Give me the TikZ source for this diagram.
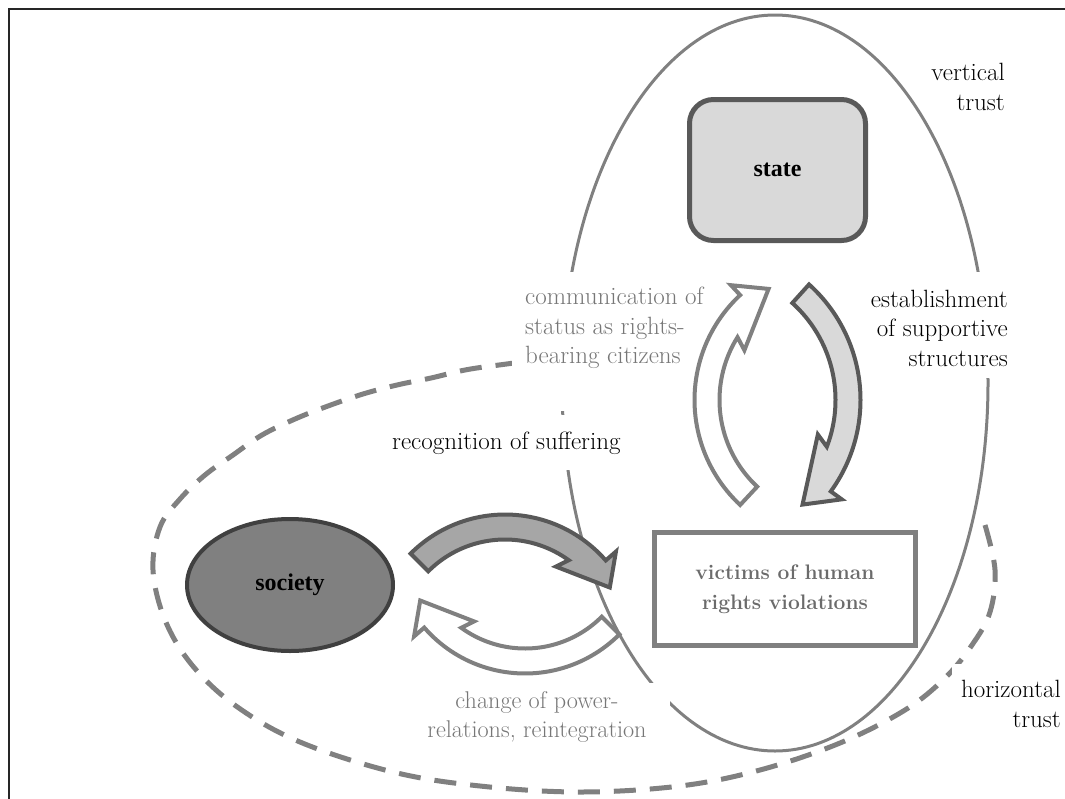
\documentclass[tikz,border=0pt]{standalone}
\usepackage{fontspec}
\usetikzlibrary{shapes.geometric}
\newfontfamily\tnr{Liberation Serif}
\definecolor{dgrey}{HTML}{595959}
\definecolor{mgrey}{HTML}{808080}
\definecolor{lgrey}{HTML}{D9D9D9}
\definecolor{agrey}{HTML}{A6A6A6}
\definecolor{sgrey}{HTML}{808080}
\definecolor{sdark}{HTML}{404040}
\definecolor{tgrey}{HTML}{777777}
% #1 style, #2 cx, #3 cy, #4 R, #5 tail, #6 outer corner, #7 tip, #8 inner corner, #9 notch
\newcommand\curvarrow[9]{%
  \pgfmathsetmacro\cArRo{#4+12.5}\pgfmathsetmacro\cArRi{#4-12.5}%
  \pgfmathsetmacro\cArRO{#4+26}\pgfmathsetmacro\cArRI{#4-25}%
  \filldraw[#1] plot[domain=#5:#6,samples=50] ({#2+\cArRo*cos(\x)},{#3+\cArRo*sin(\x)})
    -- ({#2+\cArRO*cos(#6)},{#3+\cArRO*sin(#6)})
    -- ({#2+#4*cos(#7)},{#3+#4*sin(#7)})
    -- ({#2+\cArRI*cos(#8)},{#3+\cArRI*sin(#8)})
    -- ({#2+\cArRi*cos(#9)},{#3+\cArRi*sin(#9)})
    -- plot[domain=#9:#5,samples=50] ({#2+\cArRi*cos(\x)},{#3+\cArRi*sin(\x)}) -- cycle;}
\begin{document}
\begin{tikzpicture}[x=1pt,y=-1pt,
  txt/.style={font=\fontsize{25}{29.5}\selectfont\addfontfeatures{FakeBold=0.8}, inner sep=0pt},
  gtxt/.style={txt, text=tgrey},
  stxt/.style={font=\fontsize{24.2}{29.5}\selectfont\addfontfeatures{FakeBold=0.8}, inner sep=0pt, text=tgrey},
  mask/.style={fill=white},
  statebox/.style={draw=dgrey, fill=lgrey, line width=5pt, rounded corners=24pt,
    minimum width=176pt, minimum height=141pt, font=\tnr\bfseries\fontsize{24}{28}\selectfont},
  socnode/.style={ellipse, draw=sdark, fill=sgrey, line width=4pt,
    minimum width=206pt, minimum height=132pt, font=\tnr\bfseries\fontsize{24}{28}\selectfont},
  victbox/.style={draw=mgrey, fill=white, line width=5pt, minimum width=261pt, minimum height=113pt,
    align=center, text=tgrey!90!black, font=\bfseries\fontsize{21}{30}\selectfont},
  trustline/.style={draw=mgrey, line width=3pt},
  dashline/.style={draw=mgrey, line width=5pt, dash pattern=on 22pt off 14pt},
  warrow/.style={draw=mgrey, fill=white, line width=4pt, line join=miter},
  garrow/.style={draw=dgrey, fill=lgrey, line width=4pt, line join=miter},
  darrow/.style={draw=dgrey, fill=agrey, line width=4pt, line join=miter}]
\useasboundingbox (0,0) rectangle (1065,798);
% frame
\draw[line width=2.5pt, color=black!85] (9,9) rectangle (1090,820);
% vertical trust
\draw[trustline] (775,383) ellipse [x radius=213, y radius=368];
% horizontal trust
\draw[dashline] plot[smooth, tension=0.6] coordinates {(985,525) (995,570) (990,612) (972,645) (945,678) (905,710) (840,743) (760,770) (680,786) (580,792) (480,786) (393,772) (300,742) (236,706) (192,665) (165,620) (153,570) (160,527) (180,499) (205,475) (233,455) (262,435) (295,419) (328,406) (363,394) (397,385) (431,378) (465,370) (499,365) (540,360) (580,357)};
% text backgrounds
\fill[mask] (512,272) rectangle (722,411);
\fill[mask] (385,415) rectangle (640,470);
\fill[mask] (860,272) rectangle (1015,378);
\fill[mask] (420,683) rectangle (670,750);
\fill[mask] (952,664) rectangle (1065,735);
% curved arrows
\curvarrow{warrow}{838}{400}{131}{133}{227}{238}{208}{212}
\curvarrow{garrow}{705}{400}{143}{-48}{36}{47}{17}{21}
\curvarrow{darrow}{505}{648}{121}{225}{319}{330}{302}{306}
\curvarrow{warrow}{525}{540}{121}{45}{139}{150}{122}{126}
% main nodes
\node[statebox] (state) at (777.5,170) {state};
\node[socnode] (society) at (290,585) {society};
\node[victbox] (victims) at (785,589) {victims of human\\rights violations};
% labels
\node[txt, align=right, anchor=east] (vt) at (1005,87) {vertical\\trust};
\node[txt, align=right, anchor=east] (ht) at (1061,704) {horizontal\\trust};
\node[gtxt, align=left, anchor=west] (comm) at (525,328) {communication of\\status as rights-\\bearing citizens};
\node[txt, align=right, anchor=east] (estab) at (1008,328) {establishment\\of supportive\\structures};
\node[txt, anchor=west] (recog) at (392,443) {recognition of suffering};
\node[stxt, align=center] (change) at (537,717) {change of power-\\relations, reintegration};
\end{tikzpicture}
\end{document}
